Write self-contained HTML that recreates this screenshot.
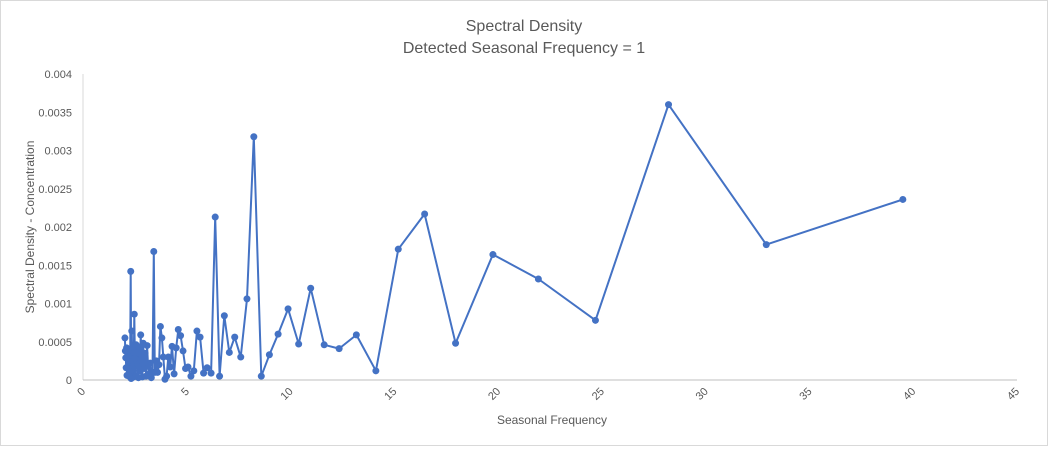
<!DOCTYPE html>
<html><head><meta charset="utf-8"><style>
body{margin:0;background:#fff;font-family:"Liberation Sans",Arial,sans-serif}
svg text{font-family:"Liberation Sans",Arial,sans-serif;fill:#595959}
</style></head><body>
<svg id="chart" width="1048" height="446" viewBox="0 0 1048 446">
<rect x="0.5" y="0.5" width="1047" height="445" fill="#fff" stroke="#d9d9d9"/>
<text x="524" y="31" text-anchor="middle" font-size="16">Spectral Density</text>
<text x="524" y="53" text-anchor="middle" font-size="16">Detected Seasonal Frequency = 1</text>
<text x="552" y="424" text-anchor="middle" font-size="12">Seasonal Frequency</text>
<text transform="translate(34,227) rotate(-90)" text-anchor="middle" font-size="12">Spectral Density - Concentration</text>
<g id="axes"></g>
<g id="series"></g>
</svg>
<script>
const xTicks=[0,5,10,15,20,25,30,35,40,45];
const yTicks=[0,0.0005,0.001,0.0015,0.002,0.0025,0.003,0.0035,0.004];
const yTickLabels=["0","0.0005","0.001","0.0015","0.002","0.0025","0.003","0.0035","0.004"];
const freqs=[39.5,32.92,28.21,24.69,21.94,19.75,17.95,16.46,15.19,14.11,13.17,12.34,11.62,10.97,10.39,9.88,9.4,8.98,8.59,8.23,7.9,7.6,7.31,7.05,6.81,6.58,6.37,6.17,5.98,5.81,5.64,5.49,5.34,5.2,5.06,4.94,4.82,4.7,4.59,4.49,4.39,4.29,4.2,4.11,4.03,3.95,3.87,3.8,3.73,3.66,3.59,3.53,3.46,3.41,3.35,3.29,3.24,3.19,3.13,3.09,3.04,2.99,2.95,2.9,2.86,2.82,2.78,2.74,2.71,2.67,2.63,2.6,2.56,2.53,2.5,2.47,2.44,2.41,2.38,2.35,2.32,2.3,2.27,2.24,2.22,2.19,2.17,2.15,2.12,2.1,2.08,2.06,2.04,2.02];
const density=[0.00236,0.00177,0.0036,0.00078,0.00132,0.00164,0.00048,0.00217,0.00171,0.00012,0.00059,0.00041,0.00046,0.0012,0.00047,0.00093,0.0006,0.00033,0.00005,0.00318,0.00106,0.0003,0.00056,0.00036,0.00084,0.00005,0.00213,0.00009,0.00016,0.00009,0.00056,0.00064,0.00012,0.00005,0.00017,0.00015,0.00038,0.00058,0.00066,0.00042,0.00008,0.00044,0.00017,0.0003,0.00005,0.00001,0.0003,0.00055,0.0007,0.0002,0.0001,0.00025,0.0001,0.00168,0.0001,0.00003,0.00022,0.00008,0.0002,0.00045,0.00005,0.00035,0.00015,0.00048,0.00004,0.0003,0.00059,0.00012,0.00042,0.00003,0.00035,0.00018,0.00046,0.00006,0.00028,0.00086,0.00004,0.00039,0.00015,0.00064,0.00002,0.00142,0.0001,0.00035,0.00005,0.00025,0.00015,0.00032,0.00006,0.00042,0.00016,0.00029,0.00038,0.00055];
const X0=83,X1=1017,Y0=380,Y1=74;
const xs=v=>X0+(v-0)/(45-0)*(X1-X0);
const ys=v=>Y0-(v-0)/(0.004-0)*(Y0-Y1);
const NS="http://www.w3.org/2000/svg";
const ax=document.getElementById('axes'),se=document.getElementById('series');
function mk(t,a,p){const e=document.createElementNS(NS,t);for(const k in a)e.setAttribute(k,a[k]);p.appendChild(e);return e;}
let l=mk('line',{x1:X0,y1:Y1,x2:X0,y2:Y0,stroke:'#d9d9d9'},ax);


l=mk('line',{x1:X0,y1:Y0,x2:X1,y2:Y0,stroke:'#bfbfbf'},ax);


yTicks.forEach((v,i)=>{const t=mk('text',{x:72,y:ys(v)+4,'text-anchor':'end','font-size':11},ax);t.textContent=yTickLabels[i];

});
xTicks.forEach(v=>{const x=xs(v);const t=mk('text',{x:x+3,y:392,'text-anchor':'end','font-size':11,transform:`rotate(-45 ${x+3} 392)`},ax);t.textContent=v;

});
const pts=freqs.map((f,i)=>xs(f).toFixed(1)+','+ys(density[i]).toFixed(1)).join(' ');
const pl=mk('polyline',{points:pts,fill:'none',stroke:'#4472c4','stroke-width':2,'stroke-linejoin':'round'},se);


freqs.forEach((f,i)=>{const c=mk('circle',{cx:xs(f),cy:ys(density[i]),r:3.5,fill:'#4472c4'},se);

});
</script>
</body></html>
